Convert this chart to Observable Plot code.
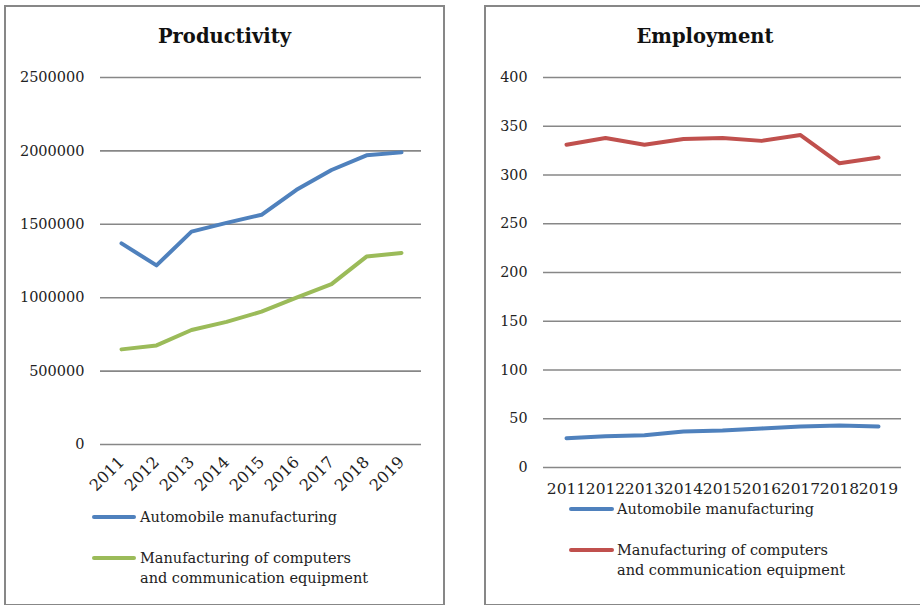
<!DOCTYPE html>
<html>
<head>
<meta charset="utf-8">
<script src="https://cdn.jsdelivr.net/npm/d3@7"></script>
<script src="https://cdn.jsdelivr.net/npm/@observablehq/plot@0.6"></script>
<style>
  html, body { margin: 0; padding: 0; background: #fff; }
  #page { position: relative; width: 920px; height: 605px; overflow: hidden; font-family: "DejaVu Serif", serif; color: #222; }
  .box { position: absolute; box-sizing: border-box; border: 2px solid #878787; background: #fff; }
  .title { position: absolute; font-weight: bold; font-size: 19.5px; line-height: 24px; text-align: center; color: #111; }
  .plot { position: absolute; top: 0; }
  .swatch { position: absolute; height: 4px; border-radius: 2px; }
  .ltext { position: absolute; font-size: 14.5px; line-height: 19.5px; white-space: nowrap; color: #222; }
</style>
</head>
<body>
<div id="page">
  <div class="box" style="left:4px;top:5px;width:441px;height:601px;"></div>
  <div class="box" style="left:484px;top:5px;width:460px;height:601px;"></div>
  <div class="title" style="left:4px;width:441px;top:25px;">Productivity</div>
  <div class="title" style="left:484px;width:442px;top:25px;">Employment</div>
  <div id="left" class="plot" style="left:0px;"></div>
  <div id="right" class="plot" style="left:460px;"></div>

  <div class="swatch" style="left:92px;width:44px;top:515px;background:#4F81BD;"></div>
  <div class="ltext" style="left:140px;top:508px;">Automobile manufacturing</div>
  <div class="swatch" style="left:92px;width:44px;top:556px;background:#9BBB59;"></div>
  <div class="ltext" style="left:140px;top:549px;">Manufacturing of computers<br>and communication equipment</div>

  <div class="swatch" style="left:569px;width:45px;top:507px;background:#4F81BD;"></div>
  <div class="ltext" style="left:617px;top:500px;">Automobile manufacturing</div>
  <div class="swatch" style="left:569px;width:45px;top:548px;background:#C0504D;"></div>
  <div class="ltext" style="left:617px;top:541px;">Manufacturing of computers<br>and communication equipment</div>
</div>
<script>
// ---- data ----
const years = ["2011","2012","2013","2014","2015","2016","2017","2018","2019"];
const productivityAuto = [1370000, 1220000, 1450000, 1510000, 1565000, 1735000, 1870000, 1970000, 1990000];
const productivityComputers = [648000, 675000, 780000, 835000, 905000, 1000000, 1092000, 1280000, 1305000];
const employmentAuto = [30, 32, 33, 37, 38, 40, 42, 43, 42];
const employmentComputers = [331, 338, 331, 337, 338, 335, 341, 312, 318];
const productivityTicks = [0, 500000, 1000000, 1500000, 2000000, 2500000];
const employmentTicks = [0, 50, 100, 150, 200, 250, 300, 350, 400];

const blue = "#4F81BD", green = "#9BBB59", red = "#C0504D", grid = "#878787";

const toRows = vals => years.map((y, i) => ({year: y, value: vals[i]}));

const leftPlot = Plot.plot({
  width: 460, height: 500,
  marginLeft: 100, marginRight: 39, marginTop: 77, marginBottom: 56,
  style: {background: "transparent", fontFamily: "DejaVu Serif", fontSize: "14.5px", color: "#222"},
  x: {type: "point", domain: years, padding: 0.5, label: null},
  y: {domain: [0, 2500000], label: null},
  marks: [
    Plot.gridY(productivityTicks, {stroke: grid, strokeOpacity: 1, strokeWidth: 1.6}),
    Plot.axisY(productivityTicks, {tickSize: 0, tickPadding: 16, tickFormat: d => String(d), label: null, fontSize: 14.5}),
    Plot.axisX({tickSize: 0, tickPadding: 15, tickRotate: -45, label: null, fontSize: 16}),
    Plot.line(toRows(productivityAuto), {x: "year", y: "value", stroke: blue, strokeWidth: 4, strokeLinejoin: "round", strokeLinecap: "round"}),
    Plot.line(toRows(productivityComputers), {x: "year", y: "value", stroke: green, strokeWidth: 4, strokeLinejoin: "round", strokeLinecap: "round"})
  ]
});
document.getElementById("left").appendChild(leftPlot);

const rightPlot = Plot.plot({
  width: 460, height: 500,
  marginLeft: 83, marginRight: 19, marginTop: 77, marginBottom: 33,
  style: {background: "transparent", fontFamily: "DejaVu Serif", fontSize: "14.5px", color: "#222"},
  x: {type: "point", domain: years, padding: 0.5, label: null},
  y: {domain: [0, 400], label: null},
  marks: [
    Plot.gridY(employmentTicks, {stroke: grid, strokeOpacity: 1, strokeWidth: 1.6}),
    Plot.axisY(employmentTicks, {tickSize: 0, tickPadding: 16, tickFormat: d => String(d), label: null, fontSize: 14.3}),
    Plot.axisX({tickSize: 0, tickPadding: 15, label: null, fontSize: 15.5}),
    Plot.line(toRows(employmentAuto), {x: "year", y: "value", stroke: blue, strokeWidth: 4, strokeLinejoin: "round", strokeLinecap: "round"}),
    Plot.line(toRows(employmentComputers), {x: "year", y: "value", stroke: red, strokeWidth: 4, strokeLinejoin: "round", strokeLinecap: "round"})
  ]
});
document.getElementById("right").appendChild(rightPlot);
</script>
</body>
</html>
